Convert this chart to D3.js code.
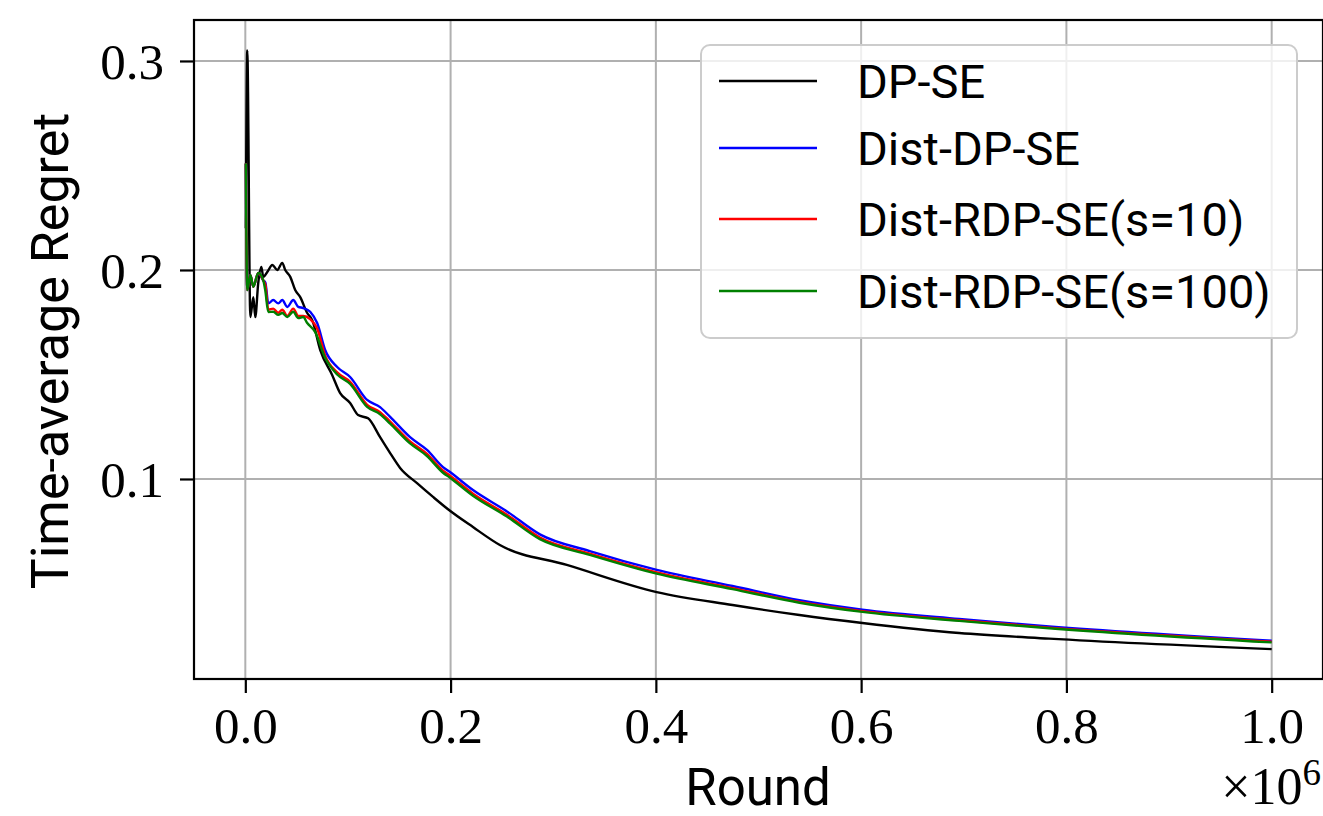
<!DOCTYPE html>
<html>
<head>
<meta charset="utf-8">
<script src="https://cdn.jsdelivr.net/npm/d3@7"></script>
<style>
  body { margin: 0; background: #fff; }
  svg { display: block; }
  .tick text { font-family: "Liberation Serif", serif; }
</style>
</head>
<body>
<div id="chart"></div>
<script>
// rounds vs time-average regret
const dpse = [
  [500, 0.22], [1900, 0.305], [4900, 0.1775], [7800, 0.187], [9700, 0.1775],
  [12600, 0.1938], [15600, 0.2014], [17500, 0.1967], [21400, 0.199], [26300, 0.2024],
  [31100, 0.200], [36000, 0.2034], [38900, 0.200], [43800, 0.1967], [48600, 0.1904],
  [53500, 0.187], [60300, 0.1794], [65200, 0.176], [73000, 0.1617], [84600, 0.1498],
  [92400, 0.1411], [102100, 0.1364], [109900, 0.1306], [119600, 0.129], [131300, 0.120],
  [141100, 0.1124], [150800, 0.1053], [167300, 0.098], [182900, 0.0914], [197500, 0.0855],
  [221800, 0.077], [248000, 0.0684], [313200, 0.0589], [400800, 0.0459], [474700, 0.0397],
  [539900, 0.0349], [601200, 0.0311], [695500, 0.0263], [783100, 0.0236], [1000000, 0.0186]
];
const distDpse = [
  [500, 0.251], [1900, 0.1904], [4900, 0.1976], [7800, 0.192], [12600, 0.1986],
  [17500, 0.195], [19500, 0.194], [22400, 0.184], [27200, 0.1856], [32100, 0.184],
  [36000, 0.1856], [40900, 0.1823], [46700, 0.1856], [51600, 0.1823], [56400, 0.1818],
  [63200, 0.180], [70000, 0.1746], [77800, 0.1617], [89500, 0.1536], [102100, 0.1488],
  [118700, 0.1378], [131300, 0.1344], [141100, 0.1297], [160500, 0.120], [177000, 0.1139],
  [192600, 0.1057], [199400, 0.1033], [221800, 0.0947], [254900, 0.0845], [287000, 0.0735],
  [335600, 0.0655], [400800, 0.0565], [474700, 0.0488], [539900, 0.042], [601200, 0.0375],
  [695500, 0.033], [783100, 0.0294], [1000000, 0.0226]
];
const distRdpse10 = [
  [500, 0.251], [1900, 0.1904], [4900, 0.1976], [7800, 0.192], [12600, 0.1986],
  [17500, 0.195], [19500, 0.193], [22400, 0.181], [27200, 0.1815], [32100, 0.1795],
  [36000, 0.181], [40900, 0.178], [46700, 0.1815], [51600, 0.178], [56400, 0.178],
  [63200, 0.1765], [70000, 0.172], [77800, 0.159], [89500, 0.151], [102100, 0.1465],
  [118700, 0.1355], [131300, 0.132], [141100, 0.1275], [160500, 0.118], [177000, 0.112],
  [192600, 0.104], [199400, 0.1016], [221800, 0.093], [254900, 0.0829], [287000, 0.072],
  [335600, 0.0643], [400800, 0.0553], [474700, 0.0478], [539900, 0.0412], [601200, 0.0368],
  [695500, 0.0324], [783100, 0.0289], [1000000, 0.0222]
];
const distRdpse100 = [
  [500, 0.251], [1900, 0.1904], [4900, 0.1976], [7800, 0.192], [12600, 0.1986],
  [17500, 0.195], [19500, 0.190], [22400, 0.1799], [27200, 0.180], [32100, 0.1785],
  [36000, 0.1794], [40900, 0.1775], [46700, 0.180], [51600, 0.177], [56400, 0.1775],
  [60300, 0.1746], [68100, 0.1703], [77800, 0.158], [89500, 0.150], [102100, 0.1455],
  [118700, 0.1345], [131300, 0.131], [141100, 0.1265], [160500, 0.117], [177000, 0.111],
  [192600, 0.103], [199400, 0.1006], [221800, 0.092], [254900, 0.082], [287000, 0.0712],
  [335600, 0.0637], [400800, 0.0547], [474700, 0.0473], [539900, 0.0408], [601200, 0.0364],
  [695500, 0.0321], [783100, 0.0286], [1000000, 0.0218]
];

const seriesNames = ['DP-SE', 'Dist-DP-SE', 'Dist-RDP-SE(s=10)', 'Dist-RDP-SE(s=100)'];
const seriesColors = ['#000000', '#0000ff', '#ff0000', '#008000'];
const xTicks = [0, 200000, 400000, 600000, 800000, 1000000];
const yTicks = [0.1, 0.2, 0.3];

const width = 1323;
const height = 816;
const margin = {top: 20, right: 0, bottom: 137, left: 194};

const svg = d3.select('#chart')
    .append('svg')
        .attr('width', width)
        .attr('height', height);

const x = d3.scaleLinear()
    .domain([-50000, 1050000])
    .range([margin.left, width - margin.right]);
const y = d3.scaleLinear()
    .domain([0.0043, 0.3196])
    .range([height - margin.bottom, margin.top]);

// grid
svg.append('g')
    .selectAll('line')
    .data(xTicks)
    .join('line')
        .attr('x1', d => x(d)).attr('x2', d => x(d))
        .attr('y1', margin.top).attr('y2', height - margin.bottom)
        .attr('stroke', '#b0b0b0')
        .attr('stroke-width', 2);
svg.append('g')
    .selectAll('line')
    .data(yTicks)
    .join('line')
        .attr('x1', margin.left).attr('x2', width - margin.right)
        .attr('y1', d => y(d)).attr('y2', d => y(d))
        .attr('stroke', '#b0b0b0')
        .attr('stroke-width', 2);

// lines
const line = d3.line()
    .curve(d3.curveMonotoneX)
    .x(d => x(d[0]))
    .y(d => y(d[1]));

svg.append('g')
    .selectAll('path')
    .data([dpse, distDpse, distRdpse10, distRdpse100])
    .join('path')
        .attr('fill', 'none')
        .attr('stroke', (d, i) => seriesColors[i])
        .attr('stroke-width', 2.4)
        .attr('stroke-linejoin', 'round')
        .attr('d', line);

// axes
const xx = g =>
    g
        .attr('transform', `translate(0,${height - margin.bottom})`)
        .call(d3.axisBottom(x)
            .tickValues(xTicks)
            .tickSize(14)
            .tickPadding(14)
            .tickFormat(d => (d / 1e6).toFixed(1)))
        .call(g => g.select('.domain').remove())
        .call(g => g.selectAll('.tick line').attr('stroke-width', 2.2))
        .call(g => g.selectAll('.tick text')
            .style('font-size', '51px')
            .attr('fill', '#000'));
const yy = g =>
    g
        .attr('transform', `translate(${margin.left},0)`)
        .call(d3.axisLeft(y)
            .tickValues(yTicks)
            .tickSize(14)
            .tickPadding(16)
            .tickFormat(d3.format('.1f')))
        .call(g => g.select('.domain').remove())
        .call(g => g.selectAll('.tick line').attr('stroke-width', 2.2))
        .call(g => g.selectAll('.tick text')
            .style('font-size', '51px')
            .attr('dy', '0.34em')
            .attr('fill', '#000'));

svg.append('g').call(xx);
svg.append('g').call(yy);

// frame
svg.append('rect')
    .attr('x', margin.left)
    .attr('y', margin.top)
    .attr('width', width - margin.right - margin.left)
    .attr('height', height - margin.bottom - margin.top)
    .attr('fill', 'none')
    .attr('stroke', '#000')
    .attr('stroke-width', 2.2);

// labels
svg.append('text')
    .attr('x', 758)
    .attr('y', 805)
    .attr('text-anchor', 'middle')
    .style('font-family', 'Roboto, sans-serif')
    .style('font-size', '51px')
    .text('Round');
svg.append('text')
    .attr('transform', 'translate(68,351) rotate(-90)')
    .attr('text-anchor', 'middle')
    .style('font-family', 'Roboto, sans-serif')
    .style('font-size', '52px')
    .text('Time-average Regret');
const mult = svg.append('text')
    .attr('x', 1321)
    .attr('y', 804)
    .attr('text-anchor', 'end')
    .style('font-family', '"Liberation Serif", serif')
    .style('font-size', '52px');
mult.append('tspan').text('\u00d710');
mult.append('tspan')
    .attr('dy', -19)
    .style('font-size', '37px')
    .text('6');

// legend
const legend = svg.append('g');
legend.append('rect')
    .attr('x', 701)
    .attr('y', 45)
    .attr('width', 596)
    .attr('height', 293)
    .attr('rx', 9)
    .attr('fill', 'rgba(255,255,255,0.8)')
    .attr('stroke', '#cccccc')
    .attr('stroke-width', 2);
const rowY = [81, 148, 219, 291];
const items = legend.selectAll('g')
    .data(seriesNames)
    .join('g')
        .attr('transform', (d, i) => `translate(0,${rowY[i]})`);
items.append('line')
    .attr('x1', 719).attr('x2', 817)
    .attr('stroke', (d, i) => seriesColors[i])
    .attr('stroke-width', 2.4);
items.append('text')
    .attr('x', 857)
    .attr('y', 17)
    .style('font-family', 'Roboto, sans-serif')
    .style('font-size', '47px')
    .text(d => d);
</script>
</body>
</html>
